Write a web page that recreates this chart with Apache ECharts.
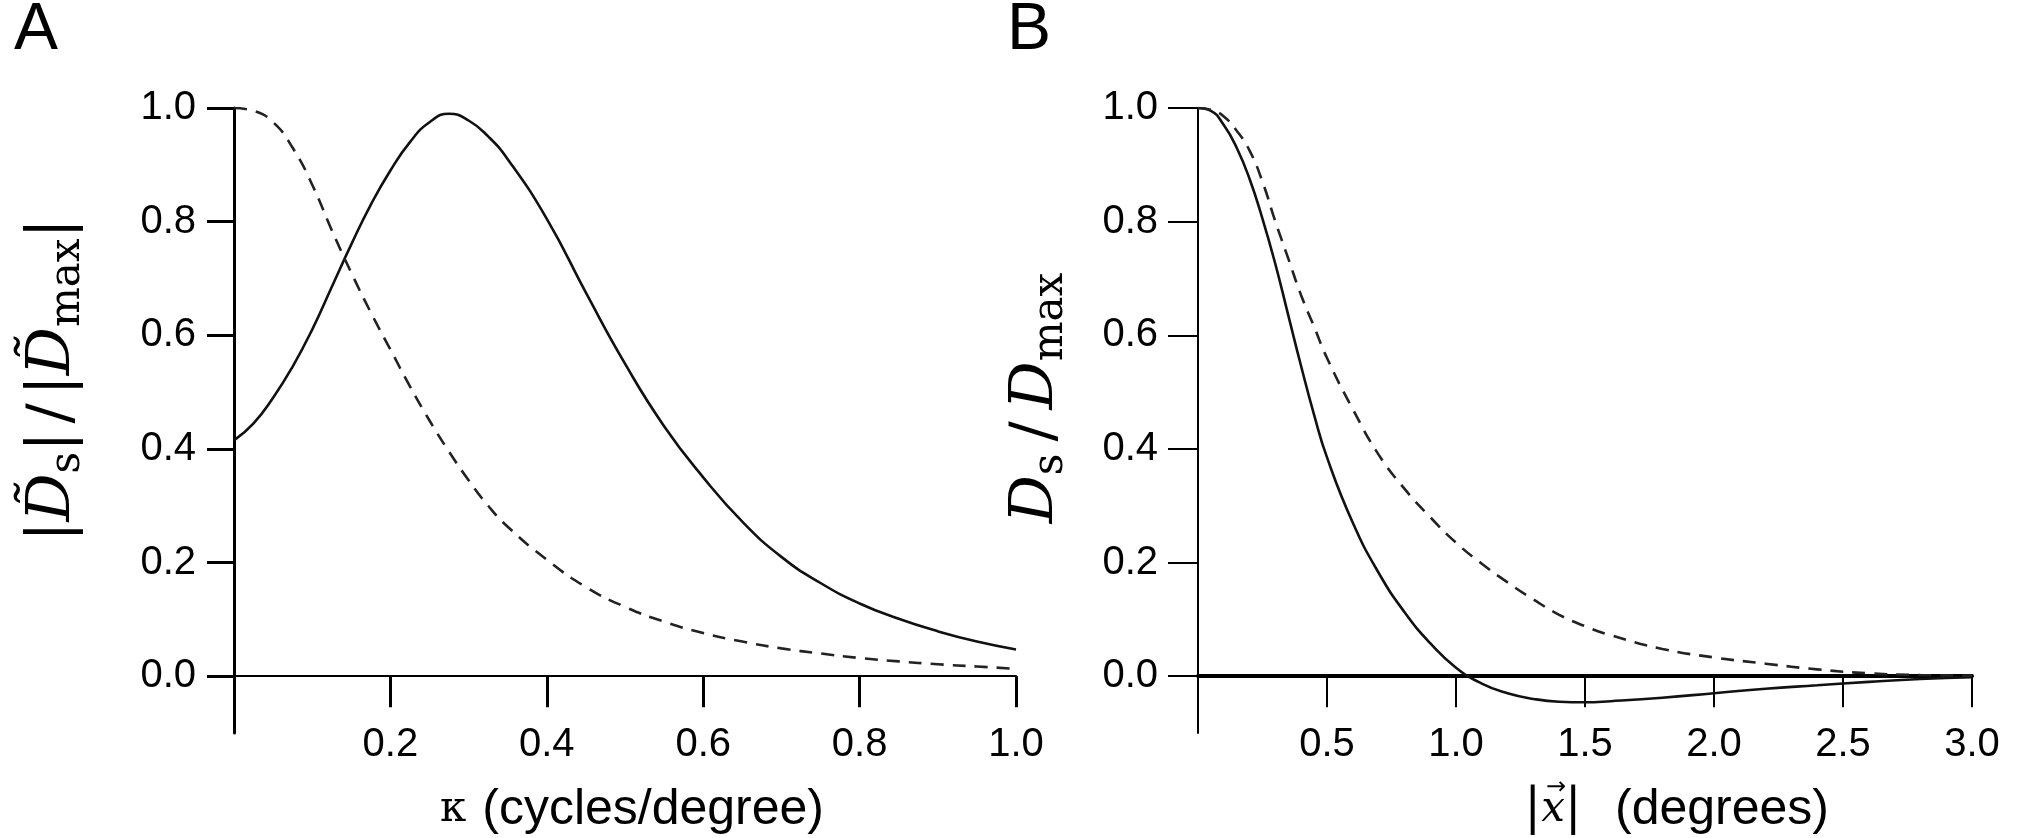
<!DOCTYPE html>
<html>
<head>
<meta charset="utf-8">
<script src="https://cdn.jsdelivr.net/npm/echarts@6/dist/echarts.min.js"></script>
<style>
html,body{margin:0;padding:0;background:#fff;}
#c{width:2018px;height:838px;}
</style>
</head>
<body>
<div id="c"></div>
<script>
// Panel A: spatial-frequency domain (kappa in cycles/degree)
const kappaA  = [0,0.025,0.05,0.075,0.1,0.125,0.15,0.175,0.2,0.225,0.25,0.275,0.3,0.325,0.35,0.4,0.45,0.5,0.55,0.6,0.65,0.7,0.75,0.8,0.85,0.9,0.95,1.0];
const solidA  = [0.415,0.445,0.49,0.545,0.61,0.685,0.76,0.83,0.89,0.94,0.975,0.99,0.978,0.95,0.91,0.805,0.675,0.55,0.44,0.35,0.272,0.21,0.164,0.128,0.101,0.079,0.061,0.047];
const dashedA = [1.0,0.995,0.975,0.93,0.865,0.785,0.71,0.64,0.575,0.51,0.45,0.395,0.345,0.30,0.263,0.205,0.157,0.122,0.096,0.076,0.061,0.049,0.04,0.032,0.026,0.021,0.017,0.013];
// Panel B: space domain (|x| in degrees)
const xB      = [0,0.05,0.1,0.15,0.2,0.25,0.3,0.35,0.4,0.45,0.5,0.6,0.7,0.8,0.9,1.0,1.1,1.2,1.3,1.4,1.5,1.6,1.8,2.0,2.2,2.4,2.6,2.8,3.0];
const solidB  = [1.0,0.995,0.97,0.93,0.875,0.805,0.725,0.635,0.545,0.46,0.385,0.27,0.182,0.113,0.058,0.015,-0.013,-0.03,-0.04,-0.045,-0.046,-0.044,-0.038,-0.03,-0.022,-0.016,-0.01,-0.005,-0.002];
const dashedB = [1.0,0.997,0.985,0.96,0.925,0.87,0.8,0.735,0.67,0.615,0.56,0.47,0.39,0.33,0.28,0.235,0.198,0.165,0.135,0.108,0.088,0.072,0.048,0.033,0.022,0.012,0.005,0.002,0.001];
// tick values
const yTicks  = [0,0.2,0.4,0.6,0.8,1.0];
const xTicksA = [0.2,0.4,0.6,0.8,1.0];
const xTicksB = [0.5,1.0,1.5,2.0,2.5,3.0];

const chart = echarts.init(document.getElementById('c'), null, {renderer:'canvas'});
const fmt = v => Number(v).toFixed(1);
const labelFont = {color:'#000', fontFamily:'Liberation Sans', fontSize:40};

function zip(xs, ys){ return xs.map((x,i)=>[x, ys[i]]); }

const serif = 'DejaVu Serif';
const titleRich = {
  n:{fontFamily:serif, fontSize:60, lineHeight:72, fill:'#000'},
  g:{fontFamily:serif, fontSize:60, lineHeight:72, fill:'#000', padding:[0,8,0,8]},
  i:{fontFamily:serif, fontStyle:'italic', fontSize:60, lineHeight:72, fill:'#000'},
  s:{fontFamily:serif, fontSize:42, lineHeight:46, verticalAlign:'bottom', fill:'#000'}
};

const option = {
  backgroundColor:'#fff',
  animation:false,
  grid:[
    {left:234, top:108, width:782, height:625},
    {left:1198, top:108, width:774, height:625}
  ],
  xAxis:[
    {type:'value', gridIndex:0, min:0, max:1.0,
     axisLine:{show:true, onZero:true, lineStyle:{color:'#000', width:2}},
     axisTick:{show:true, length:31, lineStyle:{color:'#000', width:3}, customValues:xTicksA},
     axisLabel:Object.assign({margin:-8, formatter:fmt, customValues:xTicksA}, labelFont),
     splitLine:{show:false}},
    {type:'value', gridIndex:1, min:0, max:3.0,
     axisLine:{show:true, onZero:true, lineStyle:{color:'#000', width:4}},
     axisTick:{show:true, length:31, lineStyle:{color:'#000', width:2}, customValues:xTicksB},
     axisLabel:Object.assign({margin:-8, formatter:fmt, customValues:xTicksB}, labelFont),
     splitLine:{show:false}}
  ],
  yAxis:[
    {type:'value', gridIndex:0, min:-0.1, max:1.0,
     axisLine:{show:true, onZero:false, lineStyle:{color:'#000', width:3}},
     axisTick:{show:true, length:27, lineStyle:{color:'#000', width:3}, customValues:yTicks},
     axisLabel:Object.assign({margin:38, formatter:fmt, customValues:yTicks}, labelFont),
     splitLine:{show:false}},
    {type:'value', gridIndex:1, min:-0.1, max:1.0,
     axisLine:{show:true, onZero:false, lineStyle:{color:'#000', width:2}},
     axisTick:{show:true, length:30, lineStyle:{color:'#000', width:2}, customValues:yTicks},
     axisLabel:Object.assign({margin:40, formatter:fmt, customValues:yTicks}, labelFont),
     splitLine:{show:false}}
  ],
  series:[
    {type:'line', xAxisIndex:0, yAxisIndex:0, data:zip(kappaA, solidA), smooth:0.5, showSymbol:false,
     lineStyle:{color:'#111', width:2.6}},
    {type:'line', xAxisIndex:0, yAxisIndex:0, data:zip(kappaA, dashedA), smooth:0.5, showSymbol:false,
     lineStyle:{color:'#222', width:2.6, type:[13,9]}},
    {type:'line', xAxisIndex:1, yAxisIndex:1, data:zip(xB, solidB), smooth:0.5, showSymbol:false,
     lineStyle:{color:'#111', width:2.6}},
    {type:'line', xAxisIndex:1, yAxisIndex:1, data:zip(xB, dashedB), smooth:0.5, showSymbol:false,
     lineStyle:{color:'#222', width:2.6, type:[13,9]}}
  ],
  graphic:[
    {type:'text', left:14, top:-2, style:{text:'A', fill:'#000', font:'66px "Liberation Sans", Arial, sans-serif'}},
    {type:'text', left:1007, top:-2, style:{text:'B', fill:'#000', font:'66px "Liberation Sans", Arial, sans-serif'}},
    {type:'text', x:53, y:380, rotation:Math.PI/2,
     style:{
       text:'{n||}{i|D\u0303}{s|s}{n||}{g|/}{n||}{i|D\u0303}{s|max}{n||}',
       align:'center', verticalAlign:'middle', rich:titleRich
     }},
    {type:'text', x:1036, y:398, rotation:Math.PI/2,
     style:{
       text:'{i|D}{s|s}{g|/}{i|D}{s|max}',
       align:'center', verticalAlign:'middle',
       rich:Object.assign({}, titleRich, {g:{fontFamily:serif, fontSize:60, lineHeight:72, fill:'#000', padding:[0,12,0,12]}})
     }},
    {type:'text', x:632, y:810,
     style:{
       text:'{k|\u03ba}{t|(cycles/degree)}',
       align:'center', verticalAlign:'middle',
       rich:{
         k:{fontFamily:serif, fontSize:42, fill:'#000', padding:[0,16,0,0]},
         t:{fontFamily:'Liberation Sans', fontSize:50, fill:'#000'}
       }
     }},
    {type:'text', x:1553, y:810,
     style:{
       text:'{n||}{i|x}{n||}',
       align:'center', verticalAlign:'middle',
       rich:{
         n:{fontFamily:serif, fontSize:50, fill:'#000'},
         i:{fontFamily:serif, fontStyle:'italic', fontSize:42, fill:'#000'}
       }
     }},
    {type:'text', x:1556, y:788,
     style:{text:'\u2192', align:'center', verticalAlign:'middle', fill:'#000',
            font:'24px "DejaVu Sans", sans-serif'}},
    {type:'text', x:1615, y:810,
     style:{text:'(degrees)', align:'left', verticalAlign:'middle', fill:'#000',
            font:'50px "Liberation Sans", Arial, sans-serif'}}
  ]
};
chart.setOption(option);
</script>
</body>
</html>
